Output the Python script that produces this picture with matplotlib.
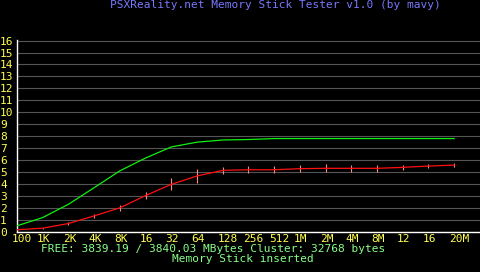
import matplotlib
matplotlib.use("Agg")
import matplotlib.pyplot as plt
from matplotlib.transforms import ScaledTranslation

# block sizes tested
sizes = ["100", "1K", "2K", "4K", "8K", "16", "32", "64", "128", "256", "512",
         "1M", "2M", "4M", "8M", "12", "16", "20M"]
# MB/s
green_vals = [0.5, 1.19, 2.3, 3.69, 5.1, 6.17, 7.1, 7.5, 7.68, 7.72, 7.8,
              7.8, 7.8, 7.8, 7.8, 7.8, 7.8, 7.8]
red_vals = [0.17, 0.3, 0.69, 1.33, 2.0, 3.03, 3.97, 4.67, 5.14, 5.19, 5.19,
            5.28, 5.31, 5.31, 5.31, 5.39, 5.5, 5.58]
red_err = [0.03, 0.05, 0.12, 0.17, 0.25, 0.3, 0.5, 0.56, 0.29, 0.29, 0.29,
           0.29, 0.33, 0.3, 0.3, 0.22, 0.17, 0.14]
y_ticks = list(range(17))

title = "PSXReality.net Memory Stick Tester v1.0 (by mavy)"
free_line = "FREE: 3839.19 / 3840.03 MBytes Cluster: 32768 bytes"
status_line = "Memory Stick inserted"

W, H = 480, 272
FONT = "DejaVu Sans Mono"
FS = 8

fig = plt.figure(figsize=(W / 100, H / 100), dpi=100, facecolor="black")
# plot area in pixel terms: x from 17 to right edge, y from 40 (16) to 232 (0)
ax = fig.add_axes([17 / W, (H - 232) / H, (W - 17) / W, 192 / H], facecolor="black")

x = list(range(len(sizes)))
ax.plot(x, green_vals, color="#10f010", lw=0.9, zorder=3)
ax.errorbar(x, red_vals, yerr=red_err, color="#ff1010", lw=0.9, ecolor="#ff8888",
            elinewidth=0.8, capsize=0, zorder=4)

ax.set_xlim(0, (W - 17.3) / 25.7)
ax.set_ylim(-0.02, 16.05)
ax.set_yticks(y_ticks)
ax.set_yticklabels([str(v) for v in y_ticks])
ax.set_xticks(x)
ax.set_xticklabels(sizes)
ax.grid(axis="y", color="#555555", lw=0.8)
ax.grid(axis="x", visible=False)
ax.set_axisbelow(True)

for s in ("top", "right"):
    ax.spines[s].set_visible(False)
for s in ("left", "bottom"):
    ax.spines[s].set_color("white")
    ax.spines[s].set_linewidth(1.0)

ax.tick_params(length=0, colors="#ffff50", labelsize=FS)
ax.tick_params(axis="y", pad=17 * 0.72)
ax.tick_params(axis="x", pad=1.5)
for lab in ax.get_yticklabels():
    lab.set_horizontalalignment("left")
    lab.set_fontfamily(FONT)
# labels on the device sit a bit right of their tick, 8px per char
for lab, s in zip(ax.get_xticklabels(), sizes):
    lab.set_fontfamily(FONT)
    shift = ScaledTranslation((4 * len(s) - 7) / 100, 0, fig.dpi_scale_trans)
    lab.set_transform(lab.get_transform() + shift)

fig.text(275 / W, 1 - 4.5 / H, title, color="#7878ff", fontsize=FS, family=FONT,
         ha="center", va="center")
fig.text(213 / W, 1 - 249.5 / H, free_line, color="#88ff88", fontsize=FS, family=FONT,
         ha="center", va="center")
fig.text(243 / W, 1 - 259.5 / H, status_line, color="#88ff88", fontsize=FS, family=FONT,
         ha="center", va="center")

fig.savefig("out.png", dpi=100, facecolor="black")
